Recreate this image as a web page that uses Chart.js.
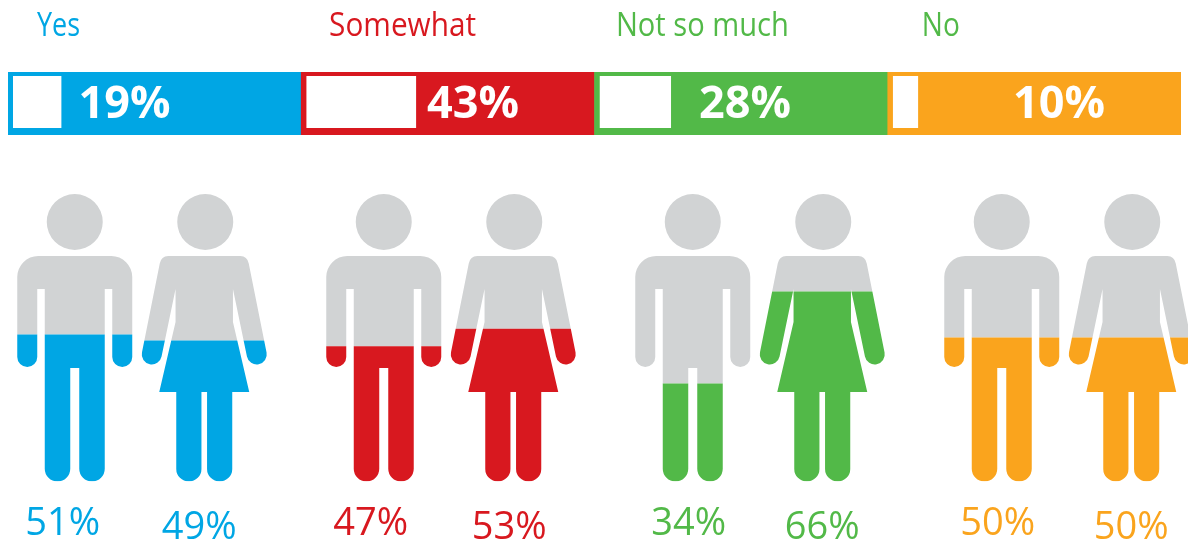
<!DOCTYPE html>
<html>
<head>
<meta charset="utf-8">
<title>Survey responses by gender</title>
<script src="https://cdn.jsdelivr.net/npm/chart.js@4"></script>
<style>
  html, body { margin: 0; padding: 0; background: #fff; overflow: hidden; width: 1188px; height: 546px; }
  canvas { position: absolute; }
  #share { left: 0; top: 0; }
  #people { left: -15px; top: 0; }
</style>
</head>
<body>
<canvas id="people" width="1236" height="546"></canvas>
<canvas id="share" width="1188" height="140"></canvas>
<script>
// Survey answers, overall share and the split between men and women
const answers = ['Yes', 'Somewhat', 'Not so much', 'No'];
const shares = [19, 43, 28, 10];
const menShares = [51, 47, 34, 50];
const womenShares = [49, 53, 66, 50];

const bandColors = ['#00A6E4', '#D8181F', '#52B948', '#FAA41D'];
const headerColors = ['#00A6E4', '#D8181F', '#52B948', '#52B948'];
const labelColors = ['#00A6E4', '#D8181F', '#52B948', '#FAA41D'];
const GREY = '#D1D3D4';
const FONT = '"Open Sans", sans-serif';

// Top strip: one band per answer with a white gauge inside it
const BAND_UNITS = 100;
const GAUGE_UNITS_PER_PCT = 0.873;
const GAUGE_INSET = 1.7;
const bandRanges = answers.map((_, i) => [i * BAND_UNITS, (i + 1) * BAND_UNITS]);
const gaugeRanges = shares.map((s, i) => {
  const start = i * BAND_UNITS + GAUGE_INSET;
  return [start, start + s * GAUGE_UNITS_PER_PCT];
});
const shareLabelOffsets = [39.7, 58.6, 51.3, 58.4];
const headerOffsets = [9.9, 9.5, 7.3, 11.6];
const headerWidths = [43, 147, 173, 38];

const shareText = {
  id: 'shareText',
  afterDatasetsDraw(chart) {
    const { ctx, scales: { x } } = chart;
    ctx.save();
    ctx.textBaseline = 'alphabetic';
    answers.forEach((a, i) => {
      ctx.font = '400 32px ' + FONT;
      ctx.textAlign = 'left';
      ctx.fillStyle = headerColors[i];
      ctx.fillText(a, x.getPixelForValue(i * BAND_UNITS + headerOffsets[i]), 36, headerWidths[i]);
      ctx.font = '700 45px ' + FONT;
      ctx.textAlign = 'center';
      ctx.fillStyle = '#fff';
      ctx.fillText(shares[i] + '%', x.getPixelForValue(i * BAND_UNITS + shareLabelOffsets[i]), 118, 92);
    });
    ctx.restore();
  }
};

new Chart(document.getElementById('share'), {
  type: 'bar',
  plugins: [shareText],
  data: {
    labels: ['Share'],
    datasets: [
      {
        label: 'Band',
        data: bandRanges.map(r => ({ x: r, y: 'Share' })),
        backgroundColor: bandColors,
        barPercentage: 1,
        categoryPercentage: 1,
        order: 2
      },
      {
        label: 'Gauge',
        data: gaugeRanges.map(r => ({ x: r, y: 'Share' })),
        backgroundColor: '#fff',
        borderColor: bandColors,
        borderWidth: { top: 0, left: 0, right: 0, bottom: 3 },
        borderSkipped: false,
        barPercentage: 55 / 63,
        categoryPercentage: 1,
        order: 1
      }
    ]
  },
  options: {
    indexAxis: 'y',
    grouped: false,
    responsive: false,
    animation: false,
    devicePixelRatio: 1,
    layout: { padding: { left: 8, right: 7, top: 72, bottom: 5 } },
    plugins: { legend: { display: false }, tooltip: { enabled: false } },
    scales: {
      x: { type: 'linear', display: false, min: 0, max: 4 * BAND_UNITS },
      y: { type: 'category', display: false }
    }
  }
});

// Pictograms: the stacked bars are clipped to a man or woman outline
const FIGURE_HEIGHT = 288;

function manPath(ctx, cx, top, u) {
  const X = v => cx + v * u, Y = v => top + v * u;
  ctx.moveTo(X(-36.5), Y(62.5));
  ctx.lineTo(X(36.5), Y(62.5));
  ctx.arcTo(X(57.5), Y(62.5), X(57.5), Y(83.5), 21 * u);
  ctx.lineTo(X(57.5), Y(163.5));
  ctx.arc(X(47.5), Y(163.5), 10 * u, 0, Math.PI);
  ctx.lineTo(X(37.5), Y(95.5));
  ctx.lineTo(X(30), Y(95.5));
  ctx.lineTo(X(30), Y(275.25));
  ctx.arc(X(17.25), Y(275.25), 12.75 * u, 0, Math.PI);
  ctx.lineTo(X(4.5), Y(174.5));
  ctx.lineTo(X(-4.5), Y(174.5));
  ctx.lineTo(X(-4.5), Y(275.25));
  ctx.arc(X(-17.25), Y(275.25), 12.75 * u, 0, Math.PI);
  ctx.lineTo(X(-30), Y(95.5));
  ctx.lineTo(X(-37.5), Y(95.5));
  ctx.lineTo(X(-37.5), Y(163.5));
  ctx.arc(X(-47.5), Y(163.5), 10 * u, 0, Math.PI);
  ctx.lineTo(X(-57.5), Y(83.5));
  ctx.arcTo(X(-57.5), Y(62.5), X(-36.5), Y(62.5), 21 * u);
  ctx.closePath();
  ctx.moveTo(X(28), Y(28.5));
  ctx.arc(X(0), Y(28.5), 28 * u, 0, Math.PI * 2);
  ctx.closePath();
}

function womanPath(ctx, cx, top, u) {
  const X = v => cx + v * u, Y = v => top + v * u;
  const tilt = 0.197;
  ctx.moveTo(X(-36), Y(62.5));
  ctx.lineTo(X(36), Y(62.5));
  ctx.quadraticCurveTo(X(43), Y(62.5), X(44.5), Y(70));
  ctx.lineTo(X(62.3), Y(159));
  ctx.arc(X(52.5), Y(161), 10 * u, -tilt, Math.PI - tilt);
  ctx.lineTo(X(28.7), Y(95.5));
  ctx.lineTo(X(28.7), Y(128.5));
  ctx.lineTo(X(45), Y(198.5));
  ctx.lineTo(X(28), Y(198.5));
  ctx.lineTo(X(28), Y(275.4));
  ctx.arc(X(15.4), Y(275.4), 12.6 * u, 0, Math.PI);
  ctx.lineTo(X(2.8), Y(198.5));
  ctx.lineTo(X(-2.8), Y(198.5));
  ctx.lineTo(X(-2.8), Y(275.4));
  ctx.arc(X(-15.4), Y(275.4), 12.6 * u, 0, Math.PI);
  ctx.lineTo(X(-28), Y(198.5));
  ctx.lineTo(X(-45), Y(198.5));
  ctx.lineTo(X(-28.7), Y(128.5));
  ctx.lineTo(X(-28.7), Y(95.5));
  ctx.lineTo(X(-42.7), Y(163));
  ctx.arc(X(-52.5), Y(161), 10 * u, tilt, Math.PI + tilt);
  ctx.lineTo(X(-44.5), Y(70));
  ctx.quadraticCurveTo(X(-43), Y(62.5), X(-36), Y(62.5));
  ctx.closePath();
  ctx.moveTo(X(29), Y(28.5));
  ctx.arc(X(1), Y(28.5), 28 * u, 0, Math.PI * 2);
  ctx.closePath();
}

const figureClip = {
  id: 'figureClip',
  beforeDatasetDraw(chart, { meta, index }) {
    const { ctx, scales: { y } } = chart;
    const top = y.getPixelForValue(100);
    const u = (y.getPixelForValue(0) - top) / FIGURE_HEIGHT;
    const draw = chart.data.datasets[index].stack === 'men' ? manPath : womanPath;
    ctx.save();
    ctx.beginPath();
    meta.data.forEach(bar => draw(ctx, bar.x, top, u));
    ctx.clip();
  },
  afterDatasetDraw(chart) {
    chart.ctx.restore();
  }
};

// Small per-figure shifts of the percentage captions
const menLabelShift = [-12, -13, -4, -4];
const womenLabelShift = [-5, -4, 0, 0];
const MEN_BASELINE = 535;
const WOMEN_BASELINE = 539;

const figureText = {
  id: 'figureText',
  afterDatasetsDraw(chart) {
    const { ctx } = chart;
    const men = chart.getDatasetMeta(0).data;
    const women = chart.getDatasetMeta(2).data;
    ctx.save();
    ctx.font = '400 38px ' + FONT;
    ctx.textAlign = 'center';
    ctx.textBaseline = 'alphabetic';
    answers.forEach((_, i) => {
      ctx.fillStyle = labelColors[i];
      ctx.fillText(menShares[i] + '%', men[i].x + menLabelShift[i], MEN_BASELINE);
      ctx.fillText(womenShares[i] + '%', women[i].x + womenLabelShift[i], WOMEN_BASELINE);
    });
    ctx.restore();
  }
};

const complement = values => values.map(v => 100 - v);
const slotOptions = { barPercentage: 1, categoryPercentage: 259 / 309, borderWidth: 0 };

new Chart(document.getElementById('people'), {
  type: 'bar',
  plugins: [figureClip, figureText],
  data: {
    labels: answers,
    datasets: [
      { label: 'Men', stack: 'men', data: menShares, backgroundColor: bandColors, ...slotOptions },
      { label: 'Men, remainder', stack: 'men', data: complement(menShares), backgroundColor: GREY, ...slotOptions },
      { label: 'Women', stack: 'women', data: womenShares, backgroundColor: bandColors, ...slotOptions },
      { label: 'Women, remainder', stack: 'women', data: complement(womenShares), backgroundColor: GREY, ...slotOptions }
    ]
  },
  options: {
    responsive: false,
    animation: false,
    devicePixelRatio: 1,
    layout: { padding: { left: 0, right: 0, top: 193.5, bottom: 64.5 } },
    plugins: { legend: { display: false }, tooltip: { enabled: false } },
    scales: {
      x: { stacked: true, display: false },
      y: { stacked: true, display: false, min: 0, max: 100 }
    }
  }
});
</script>
</body>
</html>
